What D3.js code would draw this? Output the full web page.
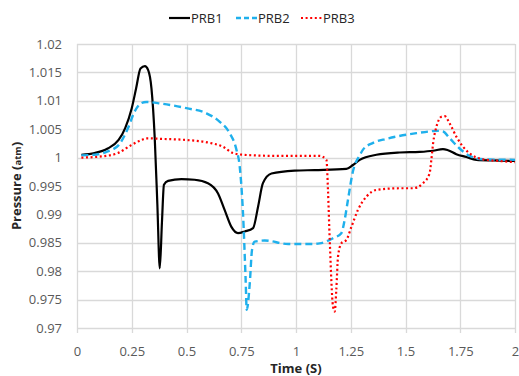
<!DOCTYPE html>
<html>
<head>
<meta charset="utf-8">
<script src="https://cdn.jsdelivr.net/npm/d3@7"></script>
<style>
  body { margin: 0; background: #fff; }
  text { font-family: "Open Sans", "Liberation Sans", sans-serif; }
</style>
</head>
<body>
<div id="chart-area"></div>
<script>
// data
let seriesNames = ["PRB1", "PRB2", "PRB3"];
let xTicks = [0, 0.25, 0.5, 0.75, 1, 1.25, 1.5, 1.75, 2];
let yTicks = [0.97, 0.975, 0.98, 0.985, 0.99, 0.995, 1, 1.005, 1.01, 1.015, 1.02];

let prb1Time = [0.02,0.08,0.14,0.19,0.22,0.25,0.27,0.29,0.31,0.325,0.34,0.355,0.367,0.378,0.388,0.397,0.416,0.477,0.537,0.598,0.644,0.674,0.705,0.735,0.766,0.804,0.827,0.849,0.888,0.994,1.085,1.23,1.26,1.291,1.367,1.473,1.565,1.626,1.671,1.694,1.732,1.778,1.824,1.9,2.0];
let prb1Pres = [1.0005,1.0008,1.0016,1.0031,1.0052,1.0087,1.0122,1.0157,1.0161,1.0154,1.0122,1.0034,0.9917,0.9805,0.9887,0.9952,0.9959,0.9962,0.9961,0.9955,0.9937,0.9908,0.9878,0.9867,0.9870,0.9876,0.9914,0.9955,0.9972,0.9977,0.9978,0.998,0.9987,0.9996,1.0005,1.0009,1.0010,1.0012,1.0015,1.0013,1.0006,1.0001,0.9996,0.9995,0.9994];

let prb2Time = [0.02,0.08,0.14,0.19,0.233,0.263,0.294,0.317,0.385,0.5,0.591,0.652,0.697,0.728,0.743,0.758,0.770,0.775,0.789,0.799,0.811,0.857,0.964,1.07,1.108,1.169,1.207,1.222,1.237,1.26,1.291,1.306,1.352,1.413,1.458,1.55,1.648,1.671,1.702,1.747,1.793,1.854,2.0];
let prb2Pres = [1.0004,1.0005,1.0011,1.0022,1.0052,1.0081,1.0096,1.0098,1.0095,1.0087,1.0078,1.0063,1.0043,1.0014,0.9984,0.9902,0.9785,0.9732,0.9779,0.9837,0.9852,0.9854,0.9848,0.9848,0.9849,0.9858,0.9867,0.9890,0.9925,0.9976,1.0004,1.0014,1.0026,1.0033,1.0037,1.0043,1.0047,1.0046,1.0034,1.0016,1.0003,0.9997,0.9996];

let prb3Time = [0.02,0.11,0.187,0.248,0.294,0.317,0.385,0.5,0.606,0.667,0.712,0.758,0.91,1.063,1.108,1.139,1.146,1.154,1.169,1.177,1.184,1.192,1.207,1.23,1.253,1.283,1.321,1.367,1.473,1.534,1.58,1.61,1.618,1.626,1.641,1.664,1.679,1.702,1.732,1.763,1.801,1.854,1.93,2.0];
let prb3Pres = [1.0,1.0002,1.0008,1.0022,1.0031,1.0034,1.0033,1.0031,1.0026,1.0019,1.0008,1.0005,1.0003,1.0003,1.0003,0.9996,0.9943,0.9855,0.9738,0.9729,0.9767,0.9826,0.9849,0.9855,0.9878,0.9908,0.9931,0.9943,0.9946,0.9946,0.9955,0.9972,0.9996,1.0025,1.0054,1.0072,1.0073,1.0060,1.0037,1.0019,1.0005,0.9997,0.9994,0.9992];

let margin = {top: 44, right: 4, bottom: 48, left: 77};
let width = 519 - margin.left - margin.right;
let height = 376 - margin.top - margin.bottom;
let gridColor = "#d9d9d9";
let labelColor = "#595959";

let styles = [
	{color: "#000000", width: 2.2, dash: null, cap: "butt"},
	{color: "#1fb0ec", width: 2.4, dash: "7,4", cap: "butt"},
	{color: "#ff0000", width: 2.2, dash: "2,2.6", cap: "butt"}
];

let series = [
	prb1Time.map((t, i) => ({t: t, p: prb1Pres[i]})),
	prb2Time.map((t, i) => ({t: t, p: prb2Pres[i]})),
	prb3Time.map((t, i) => ({t: t, p: prb3Pres[i]}))
];

let svg = d3.select("#chart-area").append("svg")
	.attr("width", 519)
	.attr("height", 376);

let g = svg.append("g")
	.attr("transform", "translate(" + margin.left + "," + margin.top + ")");

// Scales
let x = d3.scaleLinear().domain([0, 2]).range([0, width]);
let y = d3.scaleLinear().domain([0.97, 1.02]).range([height, 0]);

// grid
g.selectAll(".hgrid")
	.data(yTicks)
	.enter().append("line")
	.attr("class", "hgrid")
	.attr("x1", 0).attr("x2", width)
	.attr("y1", d => Math.round(y(d)) + 0.5)
	.attr("y2", d => Math.round(y(d)) + 0.5)
	.attr("stroke", gridColor).attr("stroke-width", 1.3);

g.selectAll(".vgrid")
	.data(xTicks)
	.enter().append("line")
	.attr("class", "vgrid")
	.attr("x1", d => Math.round(x(d)) + 0.5)
	.attr("x2", d => Math.round(x(d)) + 0.5)
	.attr("y1", 0).attr("y2", height + 5)
	.attr("stroke", gridColor).attr("stroke-width", 1.3);

// axes (labels only, lines drawn as grid)
let xAxis = d3.axisBottom(x)
	.tickValues(xTicks)
	.tickSize(0)
	.tickPadding(19)
	.tickFormat(d3.format("~g"));
g.append("g")
	.attr("class", "x-axis")
	.attr("transform", "translate(0," + height + ")")
	.call(xAxis);

let yAxis = d3.axisLeft(y)
	.tickValues(yTicks)
	.tickSize(0)
	.tickPadding(15)
	.tickFormat(d3.format("~g"));
g.append("g")
	.attr("class", "y-axis")
	.call(yAxis);

g.selectAll(".x-axis .domain, .y-axis .domain").remove();
g.selectAll(".x-axis text, .y-axis text")
	.attr("fill", labelColor)
	.style("font-size", "13px");

// lines
let line = d3.line()
	.x(d => x(d.t))
	.y(d => y(d.p))
	.curve(d3.curveMonotoneX);

g.selectAll(".line")
	.data(series)
	.enter().append("path")
	.attr("class", "line")
	.attr("fill", "none")
	.attr("stroke", (d, i) => styles[i].color)
	.attr("stroke-width", (d, i) => styles[i].width)
	.attr("stroke-dasharray", (d, i) => styles[i].dash)
	.attr("stroke-linejoin", "round")
	.attr("d", line);

// axis titles
svg.append("text")
	.attr("x", margin.left + width / 2)
	.attr("y", 373)
	.attr("text-anchor", "middle")
	.style("font-size", "13px")
	.style("font-weight", "bold")
	.attr("fill", "#262626")
	.text("Time (S)");

let yTitle = svg.append("text")
	.attr("transform", "translate(21," + (margin.top + height / 2) + ") rotate(-90)")
	.attr("text-anchor", "middle")
	.style("font-size", "13px")
	.style("font-weight", "bold")
	.attr("fill", "#262626");
yTitle.append("tspan").text("Pressure (");
yTitle.append("tspan").style("font-size", "9.5px").text("atm");
yTitle.append("tspan").text(")");

// legend
let legendX = [169, 236, 301];
let legend = svg.selectAll(".legend")
	.data(seriesNames)
	.enter().append("g")
	.attr("class", "legend")
	.attr("transform", (d, i) => "translate(" + legendX[i] + ",18)");

legend.append("line")
	.attr("x1", 0).attr("x2", 21)
	.attr("y1", 0).attr("y2", 0)
	.attr("stroke", (d, i) => styles[i].color)
	.attr("stroke-width", (d, i) => styles[i].width)
	.attr("stroke-dasharray", (d, i) => i == 1 ? "5,3" : styles[i].dash);

legend.append("text")
	.attr("x", 22)
	.attr("y", 5)
	.style("font-size", "13px")
	.attr("fill", "#262626")
	.text(d => d);
</script>
</body>
</html>
